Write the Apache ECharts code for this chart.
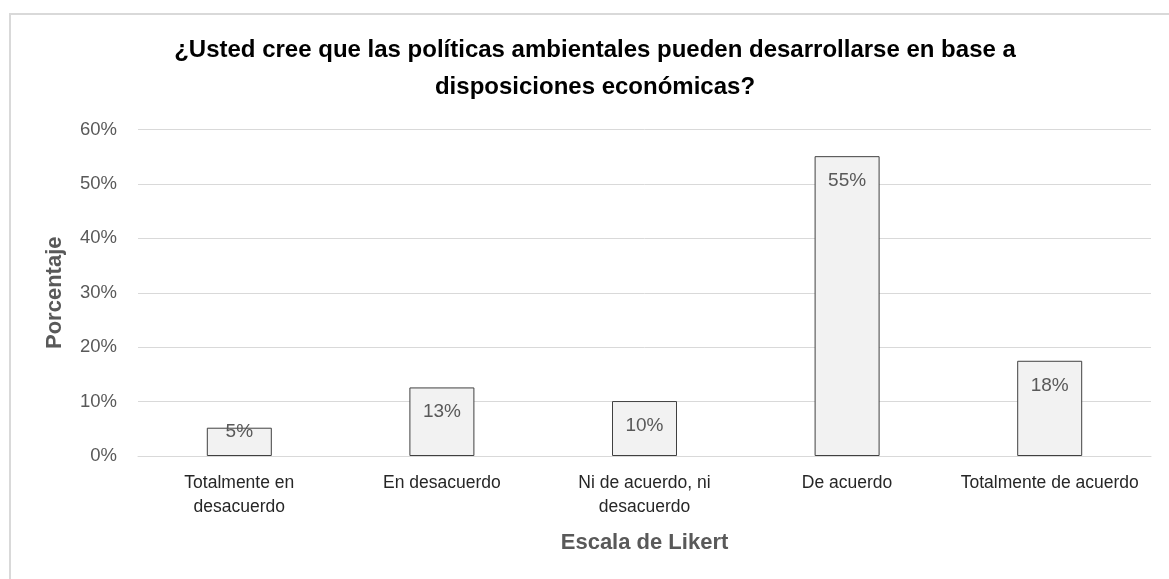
<!DOCTYPE html>
<html>
<head>
<meta charset="utf-8">
<script src="https://cdn.jsdelivr.net/npm/echarts@6/dist/echarts.min.js"></script>
<style>
html,body{margin:0;padding:0;background:#fff;}
#chart{width:1169px;height:579px;}
</style>
</head>
<body>
<div id="chart"></div>
<script>
const titleText = '¿Usted cree que las políticas ambientales pueden desarrollarse en base a\ndisposiciones económicas?';
const categories = ['Totalmente en\ndesacuerdo', 'En desacuerdo', 'Ni de acuerdo, ni\ndesacuerdo', 'De acuerdo', 'Totalmente de acuerdo'];
const values = [5.2, 12.6, 10.1, 55.1, 17.5];
const valueLabels = ['5%', '13%', '10%', '55%', '18%'];
const yMin = 0, yMax = 60, yStep = 10;
const xAxisName = 'Escala de Likert';
const yAxisName = 'Porcentaje';

const chart = echarts.init(document.getElementById('chart'), null, {renderer: 'canvas'});
const font = "'Liberation Sans', Arial, sans-serif";

chart.setOption({
  backgroundColor: '#ffffff',
  animation: false,
  graphic: [{
    type: 'rect',
    shape: {x: 10, y: 14, width: 1200, height: 600},
    style: {fill: 'none', stroke: '#d9d9d9', lineWidth: 2},
    silent: true
  }, {
    type: 'text',
    x: 595,
    y: 32,
    silent: true,
    style: {
      text: titleText,
      align: 'center',
      verticalAlign: 'top',
      fontFamily: font,
      fontWeight: 'bold',
      fontSize: 24,
      lineHeight: 37,
      fill: '#000000'
    }
  }],
  grid: {left: 138, right: 18, top: 129.5, bottom: 123, containLabel: false},
  xAxis: {
    type: 'category',
    data: categories,
    axisLine: {show: true, lineStyle: {color: '#d9d9d9', width: 1}},
    axisTick: {show: false},
    axisLabel: {
      color: '#262626', fontFamily: font, fontSize: 17.5, lineHeight: 24, margin: 15, interval: 0
    },
    name: xAxisName,
    nameLocation: 'middle',
    nameGap: 76,
    nameTextStyle: {color: '#595959', fontFamily: font, fontSize: 22, fontWeight: 'bold'}
  },
  yAxis: {
    type: 'value',
    min: yMin, max: yMax, interval: yStep,
    axisLine: {show: false},
    axisTick: {show: false},
    splitLine: {show: true, lineStyle: {color: '#d9d9d9', width: 1}},
    axisLabel: {
      formatter: '{value}%', color: '#595959', fontFamily: font, fontSize: 18.5, margin: 21
    },
    name: yAxisName,
    nameLocation: 'middle',
    nameRotate: 90,
    nameGap: 72,
    nameTextStyle: {color: '#595959', fontFamily: font, fontSize: 22, fontWeight: 'bold'}
  },
  series: [{
    type: 'bar',
    data: values.map((v, i) => i === 0 ? {value: v, label: {distance: -5}} : v),
    barWidth: 65,
    itemStyle: {color: '#f2f2f2', borderColor: '#404040', borderWidth: 1},
    label: {
      show: true,
      position: 'insideTop',
      distance: 15,
      formatter: p => valueLabels[p.dataIndex],
      color: '#595959',
      fontFamily: font,
      fontSize: 19
    }
  }]
});
</script>
</body>
</html>
